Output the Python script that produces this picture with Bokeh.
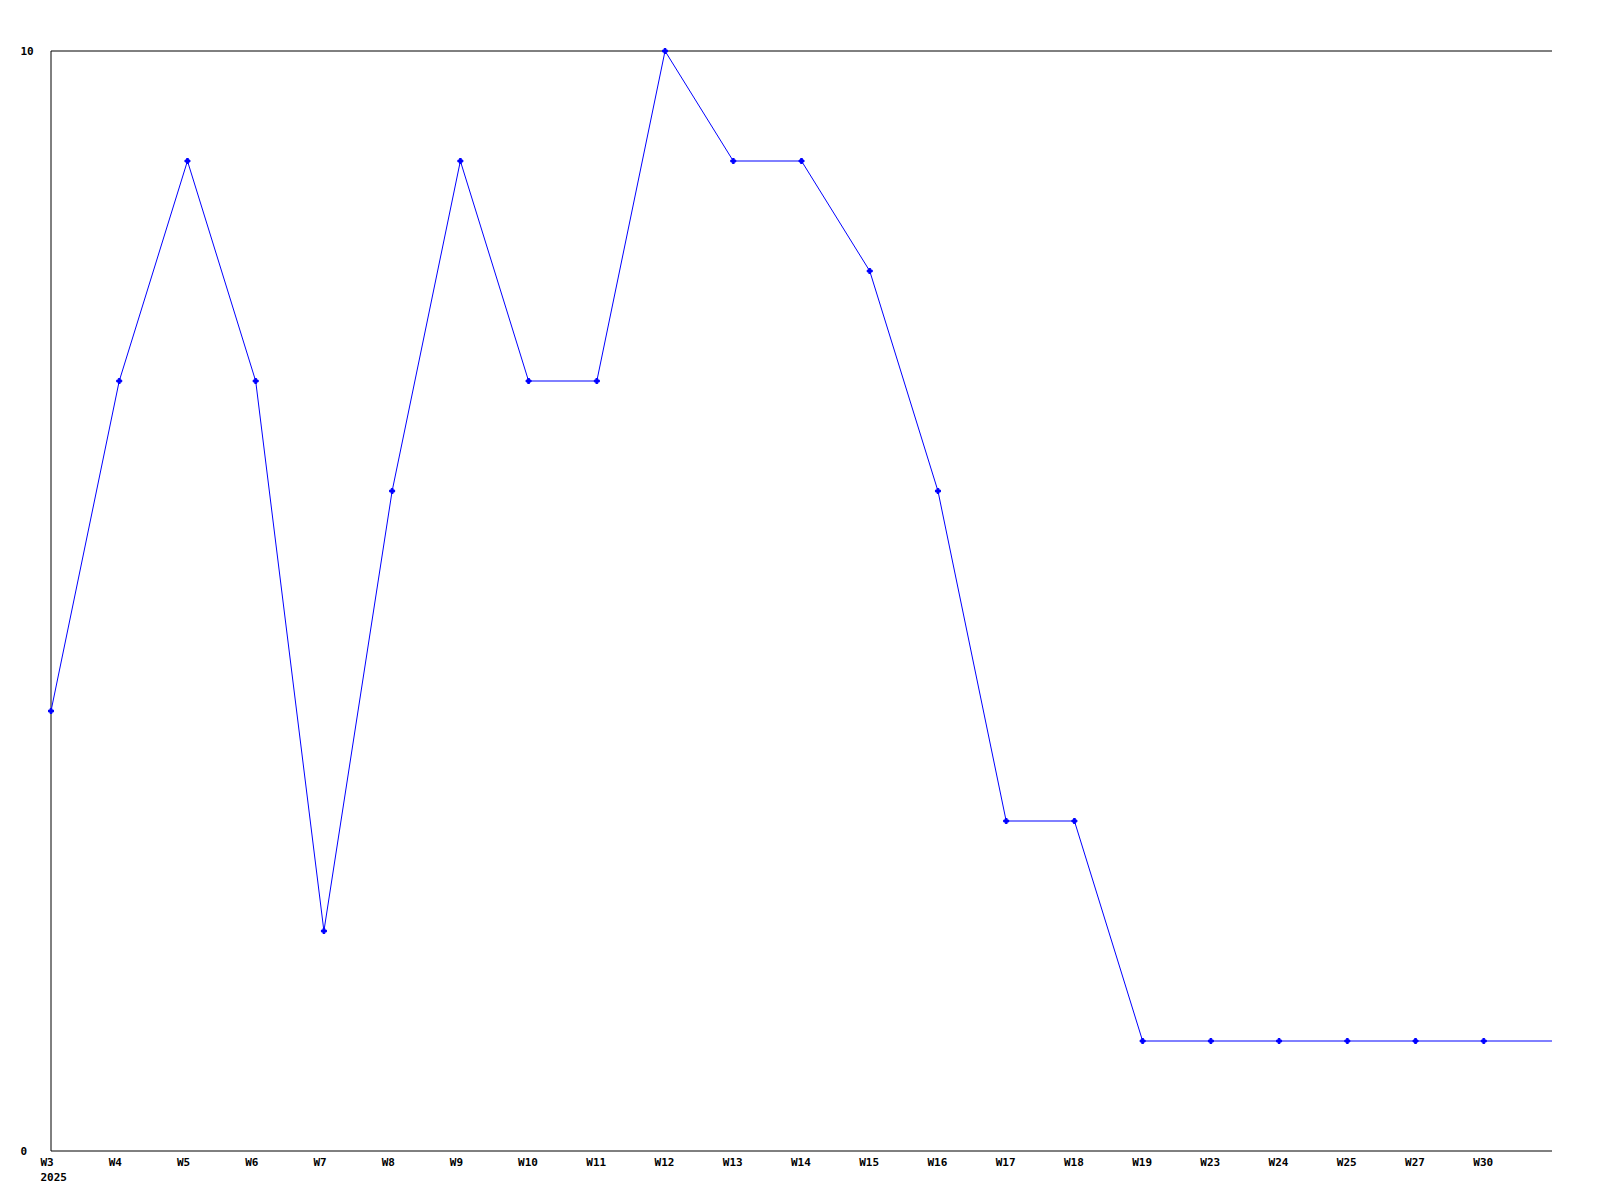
from bokeh.plotting import figure
from bokeh.models import Range1d
from bokeh.core.properties import value
from bokeh.embed import file_html
from bokeh.resources import INLINE

# ---- data ----
weeks = ["W3", "W4", "W5", "W6", "W7", "W8", "W9", "W10", "W11", "W12", "W13",
         "W14", "W15", "W16", "W17", "W18", "W19", "W23", "W24", "W25", "W27", "W30"]
values = [4, 7, 9, 7, 2, 6, 9, 7, 7, 10, 9, 9, 8, 6, 3, 3, 1, 1, 1, 1, 1, 1]
end_value = 1          # series continues to the right edge without a marker
year_label = "2025"
y_tick_values = [0, 10]
y_tick_labels = ["0", "10"]

FONT = "DejaVu Sans Mono"
BLUE = "#0000ff"

# ---- layout (pixels) ----
W, H = 1592, 1192
LEFT, RIGHT_PX = 50.5, 1551.5
TOP, BOTTOM = 50.5, 1150.5

n = len(weeks)
ymin, ymax = 0, 10
sx = (RIGHT_PX - LEFT) / n
sy = (BOTTOM - TOP) / (ymax - ymin)
x_start = -LEFT / sx
x_end = x_start + W / sx
y_end = ymax + TOP / sy
y_start = y_end - H / sy

xs = list(range(n))
line_x = list(range(n + 1))
line_y = values + [end_value]

p = figure(width=W, height=H, output_backend="svg", toolbar_location=None,
           x_range=Range1d(x_start, x_end), y_range=Range1d(y_start, y_end),
           x_axis_type=None, y_axis_type=None,
           min_border=0, min_border_left=0, min_border_right=0,
           min_border_top=0, min_border_bottom=0)
p.grid.visible = False
p.outline_line_color = None
p.background_fill_color = "white"
p.border_fill_color = "white"

# frame lines: left, top, bottom
p.segment(x0=[0, 0, 0], y0=[ymin, ymax, ymin], x1=[0, n, n], y1=[ymax, ymax, ymin],
          line_color="black", line_width=1)

p.line(line_x, line_y, line_color=BLUE, line_width=1)
p.scatter(xs, values, marker="plus", size=5, line_color=BLUE, fill_color=BLUE, line_width=1)

label_style = dict(text_font=value(FONT), text_font_style="bold", text_font_size="11px",
                   text_align="left", text_baseline="middle", text_color="black")
p.text(x=xs, y=[ymin] * n, text=weeks, x_offset=-10.5, y_offset=11.5, **label_style)
p.text(x=[0], y=[ymin], text=[year_label], x_offset=-10.5, y_offset=25.5, **label_style)
p.text(x=[0] * len(y_tick_values), y=y_tick_values, text=y_tick_labels,
       x_offset=-30.5, y_offset=0, **label_style)

open("out.html", "w").write(file_html(p, INLINE))
